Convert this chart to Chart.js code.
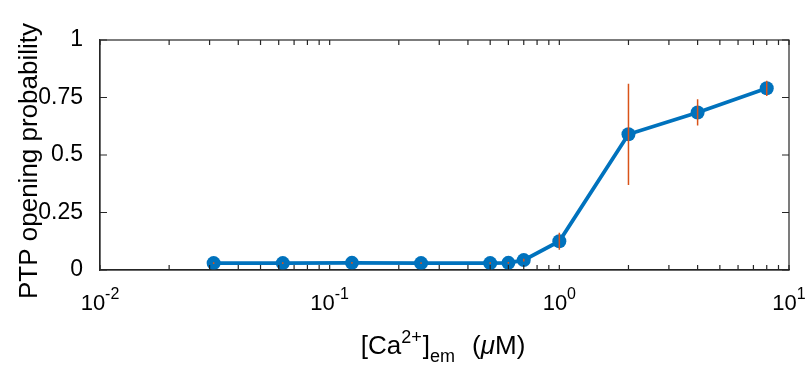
<!DOCTYPE html>
<html>
<head>
<meta charset="utf-8">
<script src="https://cdn.jsdelivr.net/npm/chart.js@4"></script>
<style>
  body { margin: 0; background: #fff; }
  #wrap { width: 811px; height: 372px; }
</style>
</head>
<body>
<div id="wrap"><canvas id="grafico"></canvas></div>
<script>
// [Ca2+] concentraciones (uM) y probabilidad de apertura del PTP
const calcio = [0.03125, 0.0625, 0.125, 0.25, 0.5, 0.6, 0.7, 1, 2, 4, 8];
const probAbierto = [0.030, 0.030, 0.031, 0.030, 0.030, 0.031, 0.043, 0.125, 0.59, 0.685, 0.79];
const errores = [0.004, 0.004, 0.004, 0.004, 0.004, 0.004, 0.006, 0.037, 0.22, 0.057, 0.033];
const yTicks = [0, 0.25, 0.5, 0.75, 1];
const yTickLabels = ['0', '0.25', '0.5', '0.75', '1'];
const xDecadas = [0.01, 0.1, 1, 10];
const xExponentes = ['-2', '-1', '0', '1'];

const AZUL = '#0072BD';
const NARANJA = '#D95319';
const EJE = '#262626';
const FUENTE = "'Liberation Sans', Arial, Helvetica, sans-serif";

// barras de error como segmentos separados por huecos
const barrasError = [];
calcio.forEach((c, i) => {
    barrasError.push({x: c, y: probAbierto[i] - errores[i]});
    barrasError.push({x: c, y: probAbierto[i] + errores[i]});
    barrasError.push({x: c, y: null});
});

// marco, marcas hacia adentro y textos (estilo MATLAB)
const marcoPlugin = {
    id: 'marco',
    afterDraw(chart) {
        const {ctx, chartArea: a, scales} = chart;
        ctx.save();
        ctx.strokeStyle = EJE;
        ctx.lineWidth = 1.2;
        ctx.strokeRect(a.left, a.top, a.right - a.left, a.bottom - a.top);
        ctx.beginPath();
        scales.x.ticks.forEach(t => {
            const px = scales.x.getPixelForValue(t.value);
            ctx.moveTo(px, a.bottom); ctx.lineTo(px, a.bottom - 5);
            ctx.moveTo(px, a.top); ctx.lineTo(px, a.top + 5);
        });
        scales.y.ticks.forEach(t => {
            const py = scales.y.getPixelForValue(t.value);
            ctx.moveTo(a.left, py); ctx.lineTo(a.left + 7, py);
            ctx.moveTo(a.right, py); ctx.lineTo(a.right - 7, py);
        });
        ctx.stroke();

        // etiquetas 10^n del eje x
        ctx.fillStyle = '#000';
        ctx.textBaseline = 'alphabetic';
        ctx.textAlign = 'left';
        xDecadas.forEach((d, i) => {
            const px = scales.x.getPixelForValue(d);
            ctx.font = '22px ' + FUENTE;
            const wb = ctx.measureText('10').width;
            ctx.font = '16px ' + FUENTE;
            const we = ctx.measureText(xExponentes[i]).width;
            const x0 = px - (wb + we) / 2;
            ctx.font = '22px ' + FUENTE;
            ctx.fillText('10', x0, 310);
            ctx.font = '16px ' + FUENTE;
            ctx.fillText(xExponentes[i], x0 + wb, 299);
        });

        // titulo eje y
        ctx.font = '26px ' + FUENTE;
        ctx.textAlign = 'center';
        ctx.textBaseline = 'middle';
        ctx.translate(30, 161);
        ctx.rotate(-Math.PI / 2);
        ctx.fillText('PTP opening probability', 0, 0);
        ctx.restore();

        // titulo eje x: [Ca2+]em (uM)
        ctx.save();
        ctx.fillStyle = '#000';
        ctx.textBaseline = 'alphabetic';
        ctx.textAlign = 'left';
        const partes = [
            {t: '[Ca', f: '26px ' + FUENTE, dy: 0, gap: 0},
            {t: '2+', f: '18px ' + FUENTE, dy: -11, gap: 0},
            {t: ']', f: '26px ' + FUENTE, dy: 0, gap: 1},
            {t: 'em', f: '18px ' + FUENTE, dy: 8, gap: 0},
            {t: ' (', f: '26px ' + FUENTE, dy: 0, gap: 10},
            {t: 'μ', f: 'italic 26px ' + FUENTE, dy: 0, gap: 0},
            {t: 'M)', f: '26px ' + FUENTE, dy: 0, gap: 0}
        ];
        let total = 0;
        partes.forEach(p => { ctx.font = p.f; total += ctx.measureText(p.t).width + p.gap; });
        let x = 443 - total / 2;
        const base = 354;
        partes.forEach(p => {
            ctx.font = p.f;
            x += p.gap;
            ctx.fillText(p.t, x, base + p.dy);
            x += ctx.measureText(p.t).width;
        });
        ctx.restore();
    }
};

new Chart(document.getElementById('grafico'), {
    type: 'line',
    data: {
        datasets: [{
            label: 'error',
            data: barrasError,
            borderColor: NARANJA,
            borderWidth: 1.5,
            pointRadius: 0,
            spanGaps: false,
            order: 0
        }, {
            label: 'PTP',
            data: calcio.map((c, i) => ({x: c, y: probAbierto[i]})),
            borderColor: AZUL,
            backgroundColor: AZUL,
            borderWidth: 3.8,
            pointRadius: 7,
            pointBorderWidth: 0,
            pointBackgroundColor: AZUL,
            tension: 0,
            order: 1
        }]
    },
    options: {
        responsive: true,
        maintainAspectRatio: false,
        animation: false,
        layout: {padding: {top: 40, right: 22, left: 0, bottom: 0}},
        plugins: {legend: {display: false}, tooltip: {enabled: false}},
        scales: {
            x: {
                type: 'logarithmic',
                min: 0.01,
                max: 10,
                grid: {display: false},
                border: {display: true, color: EJE, width: 1.2},
                afterBuildTicks: (s) => {
                    const t = [];
                    [0.01, 0.1, 1].forEach(d => {
                        for (let k = 1; k <= 9; k++) t.push({value: d * k});
                    });
                    t.push({value: 10});
                    s.ticks = t;
                },
                afterFit: (s) => { s.height = 102; s.paddingLeft = 0; s.paddingRight = 0; },
                ticks: {display: false}
            },
            y: {
                min: 0,
                max: 1,
                grid: {display: false},
                border: {display: true, color: EJE, width: 1.2},
                afterBuildTicks: (s) => { s.ticks = yTicks.map(v => ({value: v})); },
                afterFit: (s) => { s.width = 100; s.paddingTop = 0; s.paddingBottom = 0; },
                ticks: {
                    padding: 9,
                    color: '#000',
                    font: {family: FUENTE, size: 23},
                    callback: (v) => yTickLabels[yTicks.indexOf(v)]
                }
            }
        }
    },
    plugins: [marcoPlugin]
});
</script>
</body>
</html>
